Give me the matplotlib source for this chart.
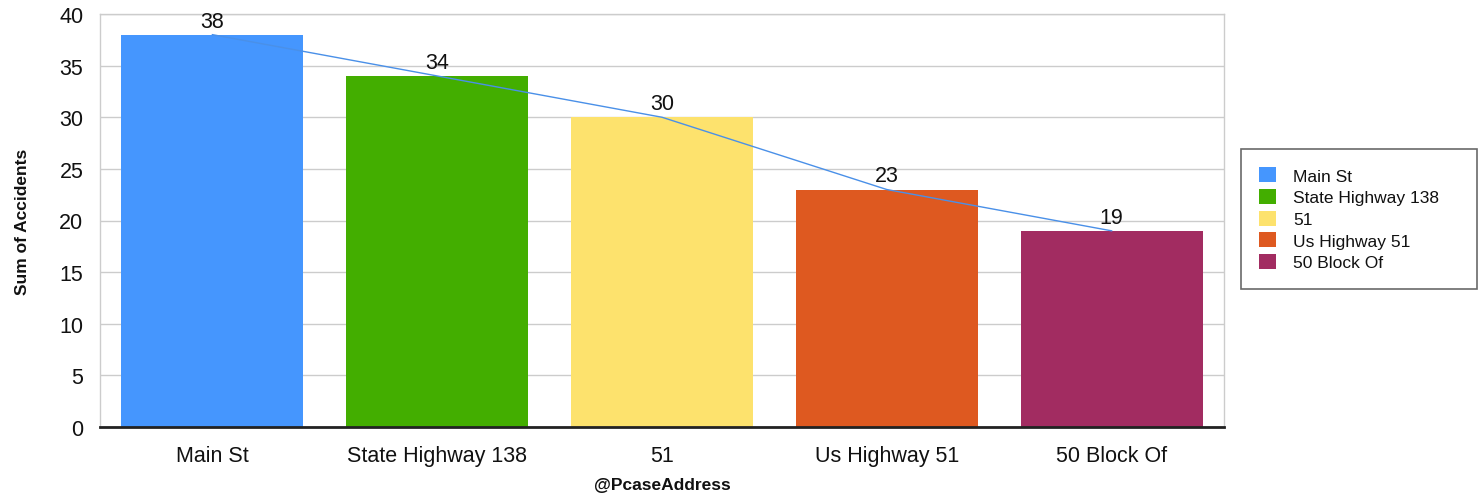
import matplotlib
matplotlib.use("Agg")
import matplotlib.pyplot as plt
from matplotlib.patches import Patch

plt.rcParams['font.family'] = ['Liberation Sans', 'DejaVu Sans']

categories = ["Main St", "State Highway 138", "51", "Us Highway 51", "50 Block Of"]
accidents = [38, 34, 30, 23, 19]
colors = ["#4596fe", "#43ae00", "#fde26d", "#de5920", "#a22c61"]
y_ticks = [0, 5, 10, 15, 20, 25, 30, 35, 40]

text_color = "#111111"

fig = plt.figure(figsize=(14.81, 5.02), dpi=100)
ax = fig.add_axes([100 / 1481, 1 - 428 / 502, 1124 / 1481, 413 / 502])

x = list(range(len(categories)))
ax.bar(x, accidents, width=0.81, color=colors, zorder=2)
ax.plot(x, accidents, color="#4a90e8", linewidth=1.0, zorder=3)

for xi, v in zip(x, accidents):
    ax.text(xi, v + 0.3, str(v), ha="center", va="bottom", fontsize=15.5, color=text_color, zorder=4)

ax.set_xlim(-0.5, len(categories) - 0.5)
ax.set_ylim(0, 40)
ax.set_yticks(y_ticks)
ax.set_yticklabels([str(t) for t in y_ticks], fontsize=15.5, color=text_color)
ax.set_xticks(x)
ax.set_xticklabels(categories, fontsize=15.5, color=text_color)
ax.tick_params(axis="y", length=0, pad=12)
ax.tick_params(axis="x", length=0, pad=13)

ax.yaxis.grid(True, color="#cccccc", linewidth=1.0, zorder=0)
ax.set_axisbelow(True)
for side in ["left", "right", "top"]:
    ax.spines[side].set_color("#cccccc")
    ax.spines[side].set_linewidth(1.0)
ax.spines["bottom"].set_color("#222222")
ax.spines["bottom"].set_linewidth(2.0)

ax.set_xlabel("@PcaseAddress", fontsize=12.5, fontweight="bold", labelpad=8, color=text_color)
ax.set_ylabel("Sum of Accidents", fontsize=12.5, fontweight="bold", labelpad=21, color=text_color)

handles = [Patch(facecolor=c, edgecolor="none") for c in colors]
leg = fig.legend(handles, categories, loc="upper left", mode="expand",
                 bbox_to_anchor=(1241 / 1481, 1 - 292 / 502, 236 / 1481, 142 / 502),
                 fontsize=12.5, frameon=True, fancybox=False,
                 handlelength=0.95, handleheight=0.95, handletextpad=1.0,
                 labelspacing=0.3, borderpad=1.05, borderaxespad=0,
                 labelcolor=text_color)
leg.get_frame().set_edgecolor("#444444")
leg.get_frame().set_linewidth(1.2)

fig.savefig("out.png", dpi=100, facecolor="white")
